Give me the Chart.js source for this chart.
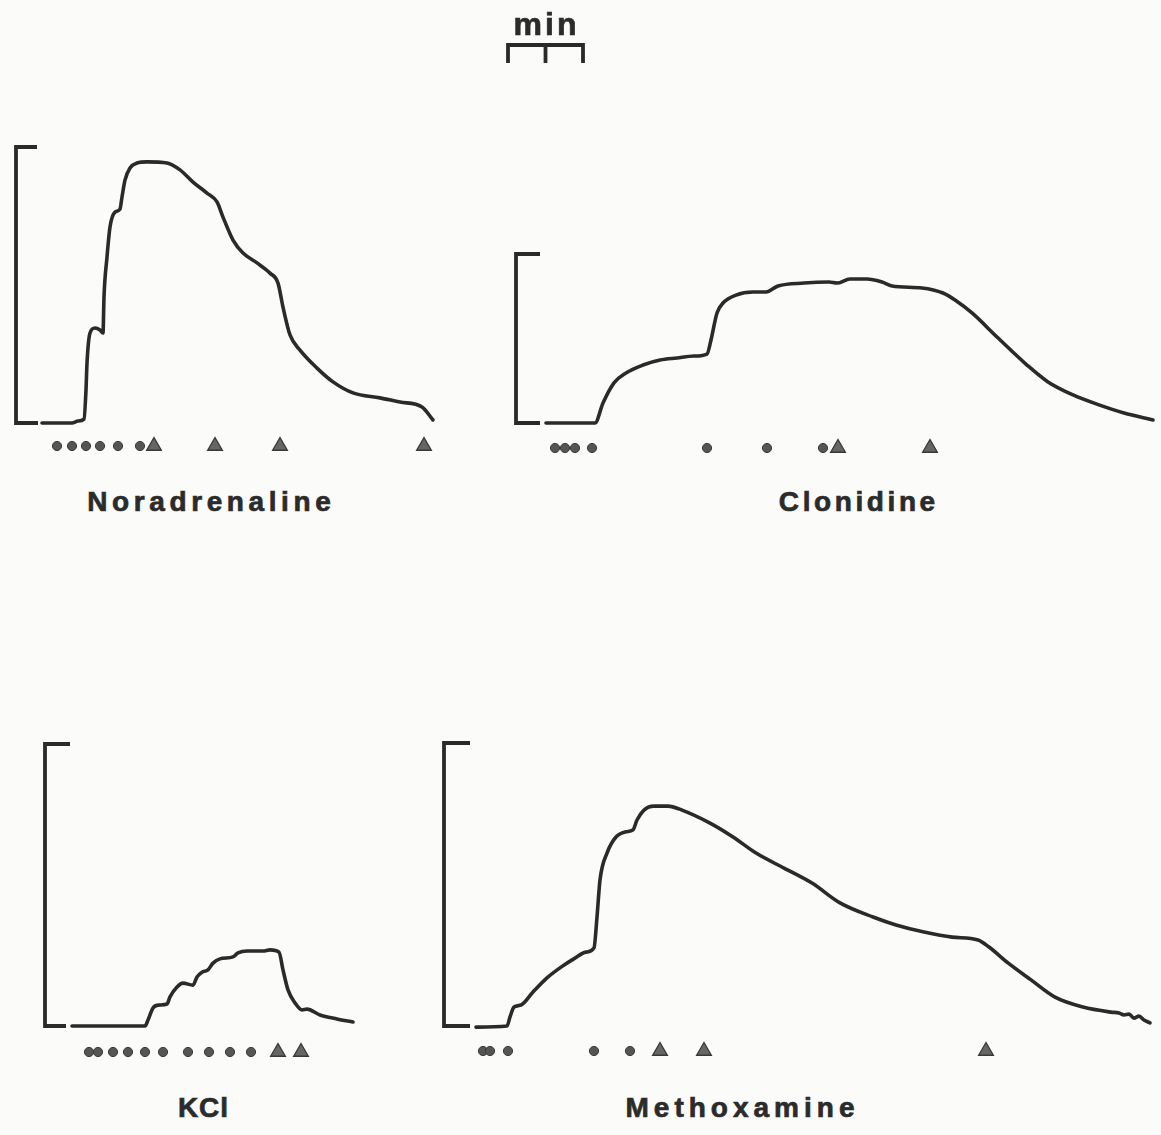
<!DOCTYPE html>
<html>
<head>
<meta charset="utf-8">
<title>Contraction traces</title>
<script src="https://cdn.jsdelivr.net/npm/chart.js@4.4.1/dist/chart.umd.min.js"></script>
<style>
	html, body { margin: 0; padding: 0; }
	body {
		position: relative;
		width: 1161px;
		height: 1135px;
		overflow: hidden;
		background: #fbfbf9;
		font-family: 'Liberation Sans', Arial, Helvetica, sans-serif;
	}
	canvas { position: absolute; }
	.trace-label {
		position: absolute;
		font-weight: bold;
		color: #2b2b2b;
		-webkit-text-stroke: 0.7px #2b2b2b;
		white-space: nowrap;
		line-height: 1;
		transform: translateX( -50% );
	}
</style>
</head>
<body>
<canvas id="trace-0"></canvas>
<canvas id="trace-1"></canvas>
<canvas id="trace-2"></canvas>
<canvas id="trace-3"></canvas>

<script>
/* global Chart */

// Drugs, one recording each.
var drugs = [ 'Noradrenaline', 'Clonidine', 'KCl', 'Methoxamine' ];

// Time axis in seconds; tension in % of each recording's calibration bar.
var noradrenalineTime = [ 20.8, 44.8, 49.6, 54.4, 56.0, 56.8, 59.2, 63.2, 67.2, 69.6, 70.4, 72.8, 75.2, 79.2, 83.2, 84.8, 87.2, 91.2, 96.8, 104.8, 120.8, 131.2, 141.6, 152.8, 160.8, 165.6, 173.6, 181.6, 192.8, 203.2, 209.6, 213.6, 219.2, 227.2, 240.8, 253.6, 269.6, 291.2, 307.2, 324.8, 333.6 ];
var noradrenalineTension = [ 0, 0, 0.7, 1.4, 12.0, 21.7, 32.6, 34.4, 33.7, 32.6, 45.7, 60.1, 71.0, 76.4, 77.5, 81.9, 88.0, 92.4, 94.2, 94.6, 94.2, 91.7, 87.3, 83.3, 80.1, 74.6, 66.3, 61.6, 58.0, 54.3, 50.7, 42.0, 31.9, 26.4, 19.9, 14.9, 10.9, 9.1, 7.6, 5.8, 1.1 ];
var noradrenalineDoses = [ 32.8, 44.8, 56.0, 67.2, 81.6, 99.2 ];
var noradrenalineWashes = [ 110.4, 159.2, 211.2, 326.4 ];

var clonidineTime = [ 24.0, 63.2, 69.6, 78.4, 88.0, 101.6, 115.2, 128.8, 142.4, 152.8, 156.0, 160.8, 165.6, 176.0, 189.6, 200.0, 209.6, 230.4, 250.4, 256.8, 267.2, 280.8, 292.8, 300.8, 324.8, 341.6, 351.2, 364.8, 384.8, 408.8, 425.6, 445.6, 466.4, 486.4, 509.6 ];
var clonidineTension = [ 0, 0, 11.8, 23.7, 29.6, 34.3, 37.3, 38.5, 39.6, 40.8, 49.1, 65.1, 71.0, 75.7, 77.5, 77.5, 81.1, 82.8, 83.4, 82.8, 85.2, 85.2, 83.4, 81.1, 79.9, 76.9, 72.8, 65.1, 50.9, 34.3, 24.3, 16.6, 10.7, 5.9, 1.8 ];
var clonidineDoses = [ 31.2, 39.2, 47.2, 60.8, 152.8, 200.8, 245.6 ];
var clonidineWashes = [ 257.6, 331.2 ];

var kclTime = [ 21.6, 80.0, 82.4, 86.4, 90.4, 97.6, 100.0, 105.6, 110.4, 118.4, 121.6, 125.6, 130.4, 134.4, 140.0, 150.4, 154.4, 161.6, 174.4, 180.0, 187.2, 190.4, 194.4, 200.0, 205.6, 209.6, 220.0, 233.6, 246.4 ];
var kclTension = [ 0, 0, 2.1, 6.4, 7.4, 7.8, 10.3, 13.8, 15.2, 14.5, 17.4, 19.1, 19.9, 22.3, 23.8, 24.5, 25.9, 26.6, 26.6, 27.0, 26.2, 19.9, 12.8, 8.2, 5.7, 6.0, 3.9, 2.5, 1.4 ];
var kclDoses = [ 35.2, 42.4, 54.4, 66.4, 80.0, 94.4, 114.4, 131.2, 148.0, 164.8 ];
var kclWashes = [ 186.4, 204.8 ];

var methoxamineTime = [ 25.6, 50.4, 52.8, 56.0, 61.6, 71.2, 82.4, 93.6, 104.8, 113.6, 120.0, 122.4, 124.8, 130.4, 137.6, 145.6, 151.2, 154.4, 160.0, 168.0, 179.2, 190.4, 212.8, 231.2, 249.6, 272.0, 294.4, 316.8, 343.2, 361.6, 384.0, 406.4, 427.2, 436.0, 451.2, 469.6, 488.8, 511.2, 533.6, 540.0, 544.0, 548.0, 552.0, 556.0, 560.0, 564.8 ];
var methoxamineTension = [ -0.4, 0, 3.2, 6.7, 7.4, 12.0, 17.0, 20.8, 24.0, 26.1, 27.6, 38.5, 51.6, 61.1, 66.8, 68.6, 69.3, 72.8, 76.3, 77.7, 77.7, 76.3, 71.7, 66.8, 61.1, 55.8, 50.5, 43.5, 38.5, 35.7, 33.2, 31.4, 30.4, 27.9, 22.3, 16.3, 10.2, 6.7, 4.9, 4.6, 3.9, 4.2, 2.8, 3.5, 2.1, 1.1 ];
var methoxamineDoses = [ 31.2, 36.8, 51.2, 120.0, 148.8 ];
var methoxamineWashes = [ 172.8, 208.0, 433.6 ];

// Page layout. 75 px on the page is one minute of chart paper.
var PX_PER_S = 1.25;
var INK = '#2a2a2a';

var panels = [
	{ time: noradrenalineTime, tension: noradrenalineTension, doses: noradrenalineDoses, washes: noradrenalineWashes,
		left: 0, top: 120, width: 490, height: 360, x0: 16, base: 423, cal: 276, row: 446, tickTop: 21, tickBottom: 22,
		label: { cx: 209, baseline: 512, size: 28, spacing: 4.6 } },
	{ time: clonidineTime, tension: clonidineTension, doses: clonidineDoses, washes: clonidineWashes,
		left: 495, top: 0, width: 666, height: 480, x0: 516, base: 423, cal: 169, row: 448, tickTop: 24, tickBottom: 24,
		label: { cx: 857, baseline: 512, size: 28, spacing: 3.6 },
		timeBar: { start: -6.4, span: 60, y: 45, drop: 18 } },
	{ time: kclTime, tension: kclTension, doses: kclDoses, washes: kclWashes,
		left: 20, top: 720, width: 390, height: 360, x0: 45, base: 1026, cal: 282, row: 1052, tickTop: 25, tickBottom: 21,
		label: { cx: 203, baseline: 1118, size: 28, spacing: 1 } },
	{ time: methoxamineTime, tension: methoxamineTension, doses: methoxamineDoses, washes: methoxamineWashes,
		left: 415, top: 720, width: 746, height: 360, x0: 444, base: 1026, cal: 283, row: 1051, tickTop: 26, tickBottom: 26,
		label: { cx: 740, baseline: 1118, size: 28, spacing: 5 } }
];

// Calibration bracket: 0 to 100 % on the y scale, drawn at t = 0.
var calibrationBar = {
	id: 'calBar',
	afterDatasetsDraw: function ( chart, args, opts ) {
		var ctx = chart.ctx;
		var x = chart.scales.x.getPixelForValue( 0 );
		var top = chart.scales.y.getPixelForValue( 100 );
		var bottom = chart.scales.y.getPixelForValue( 0 );

		ctx.save();
		ctx.strokeStyle = INK;
		ctx.lineWidth = 3.8;
		ctx.lineJoin = 'miter';
		ctx.beginPath();
		ctx.moveTo( x + opts.tickTop, top );
		ctx.lineTo( x, top );
		ctx.lineTo( x, bottom );
		ctx.lineTo( x + opts.tickBottom, bottom );
		ctx.stroke();
		ctx.restore();
	}
};

// One-minute time bar with a half-minute tick.
var timeBar = {
	id: 'timeBar',
	afterDatasetsDraw: function ( chart, args, opts ) {
		if ( ! opts || ! opts.span ) {
			return;
		}
		var ctx = chart.ctx;
		var xs = chart.scales.x;
		var a = xs.getPixelForValue( opts.start );
		var m = xs.getPixelForValue( opts.start + opts.span / 2 );
		var b = xs.getPixelForValue( opts.start + opts.span );

		ctx.save();
		ctx.strokeStyle = INK;
		ctx.lineWidth = 3.8;
		ctx.lineJoin = 'miter';
		ctx.beginPath();
		ctx.moveTo( a, opts.y + opts.drop );
		ctx.lineTo( a, opts.y );
		ctx.lineTo( b, opts.y );
		ctx.lineTo( b, opts.y + opts.drop );
		ctx.moveTo( m, opts.y );
		ctx.lineTo( m, opts.y + opts.drop );
		ctx.stroke();
		ctx.restore();
	}
};

function addLabel( text, cx, baseline, size, spacing ) {
	var el = document.createElement( 'div' );
	el.className = 'trace-label';
	el.textContent = text;
	el.style.fontSize = size + 'px';
	el.style.letterSpacing = spacing + 'px';
	el.style.textIndent = spacing + 'px';
	el.style.left = cx + 'px';
	el.style.top = ( baseline - 0.8465 * size ) + 'px';
	document.body.appendChild( el );
}

function markers( times, y ) {
	return times.map( function ( t ) {
		return { x: t, y: y };
	} );
}

document.addEventListener( 'DOMContentLoaded', function () {
	'use strict';

	panels.forEach( function ( p, i ) {
		var canvas = document.getElementById( 'trace-' + i );
		canvas.width = p.width;
		canvas.height = p.height;
		canvas.style.left = p.left + 'px';
		canvas.style.top = p.top + 'px';

		var unit = p.cal / 100;
		var rowY = ( p.base - p.row ) / unit;
		var trace = p.time.map( function ( t, k ) {
			return { x: t, y: p.tension[ k ] };
		} );

		new Chart( canvas.getContext( '2d' ), {
			type: 'line',
			data: {
				datasets: [ {
					data: trace,
					borderColor: INK,
					borderWidth: 3.6,
					borderCapStyle: 'round',
					borderJoinStyle: 'round',
					pointRadius: 0,
					cubicInterpolationMode: 'monotone',
					clip: false
				}, {
					data: markers( p.doses, rowY ),
					showLine: false,
					pointStyle: 'circle',
					pointRadius: 4.6,
					backgroundColor: '#555555',
					borderColor: '#383838',
					borderWidth: 1,
					clip: false
				}, {
					data: markers( p.washes, rowY ),
					showLine: false,
					pointStyle: 'triangle',
					pointRadius: 8.5,
					backgroundColor: '#666666',
					borderColor: '#383838',
					borderWidth: 1.3,
					clip: false
				} ]
			},
			options: {
				responsive: false,
				animation: false,
				devicePixelRatio: 1,
				events: [],
				layout: { padding: 0, autoPadding: false },
				scales: {
					x: {
						type: 'linear',
						display: false,
						min: ( p.left - p.x0 ) / PX_PER_S,
						max: ( p.left + p.width - p.x0 ) / PX_PER_S
					},
					y: {
						display: false,
						min: ( p.base - p.top - p.height ) / unit,
						max: ( p.base - p.top ) / unit
					}
				},
				plugins: {
					legend: { display: false },
					tooltip: { enabled: false },
					calBar: { tickTop: p.tickTop, tickBottom: p.tickBottom },
					timeBar: p.timeBar || {}
				}
			},
			plugins: [ calibrationBar, timeBar ]
		} );

		addLabel( drugs[ i ], p.label.cx, p.label.baseline, p.label.size, p.label.spacing );
	} );

	addLabel( 'min', 545, 35, 32, 3 );
} );
</script>
</body>
</html>
